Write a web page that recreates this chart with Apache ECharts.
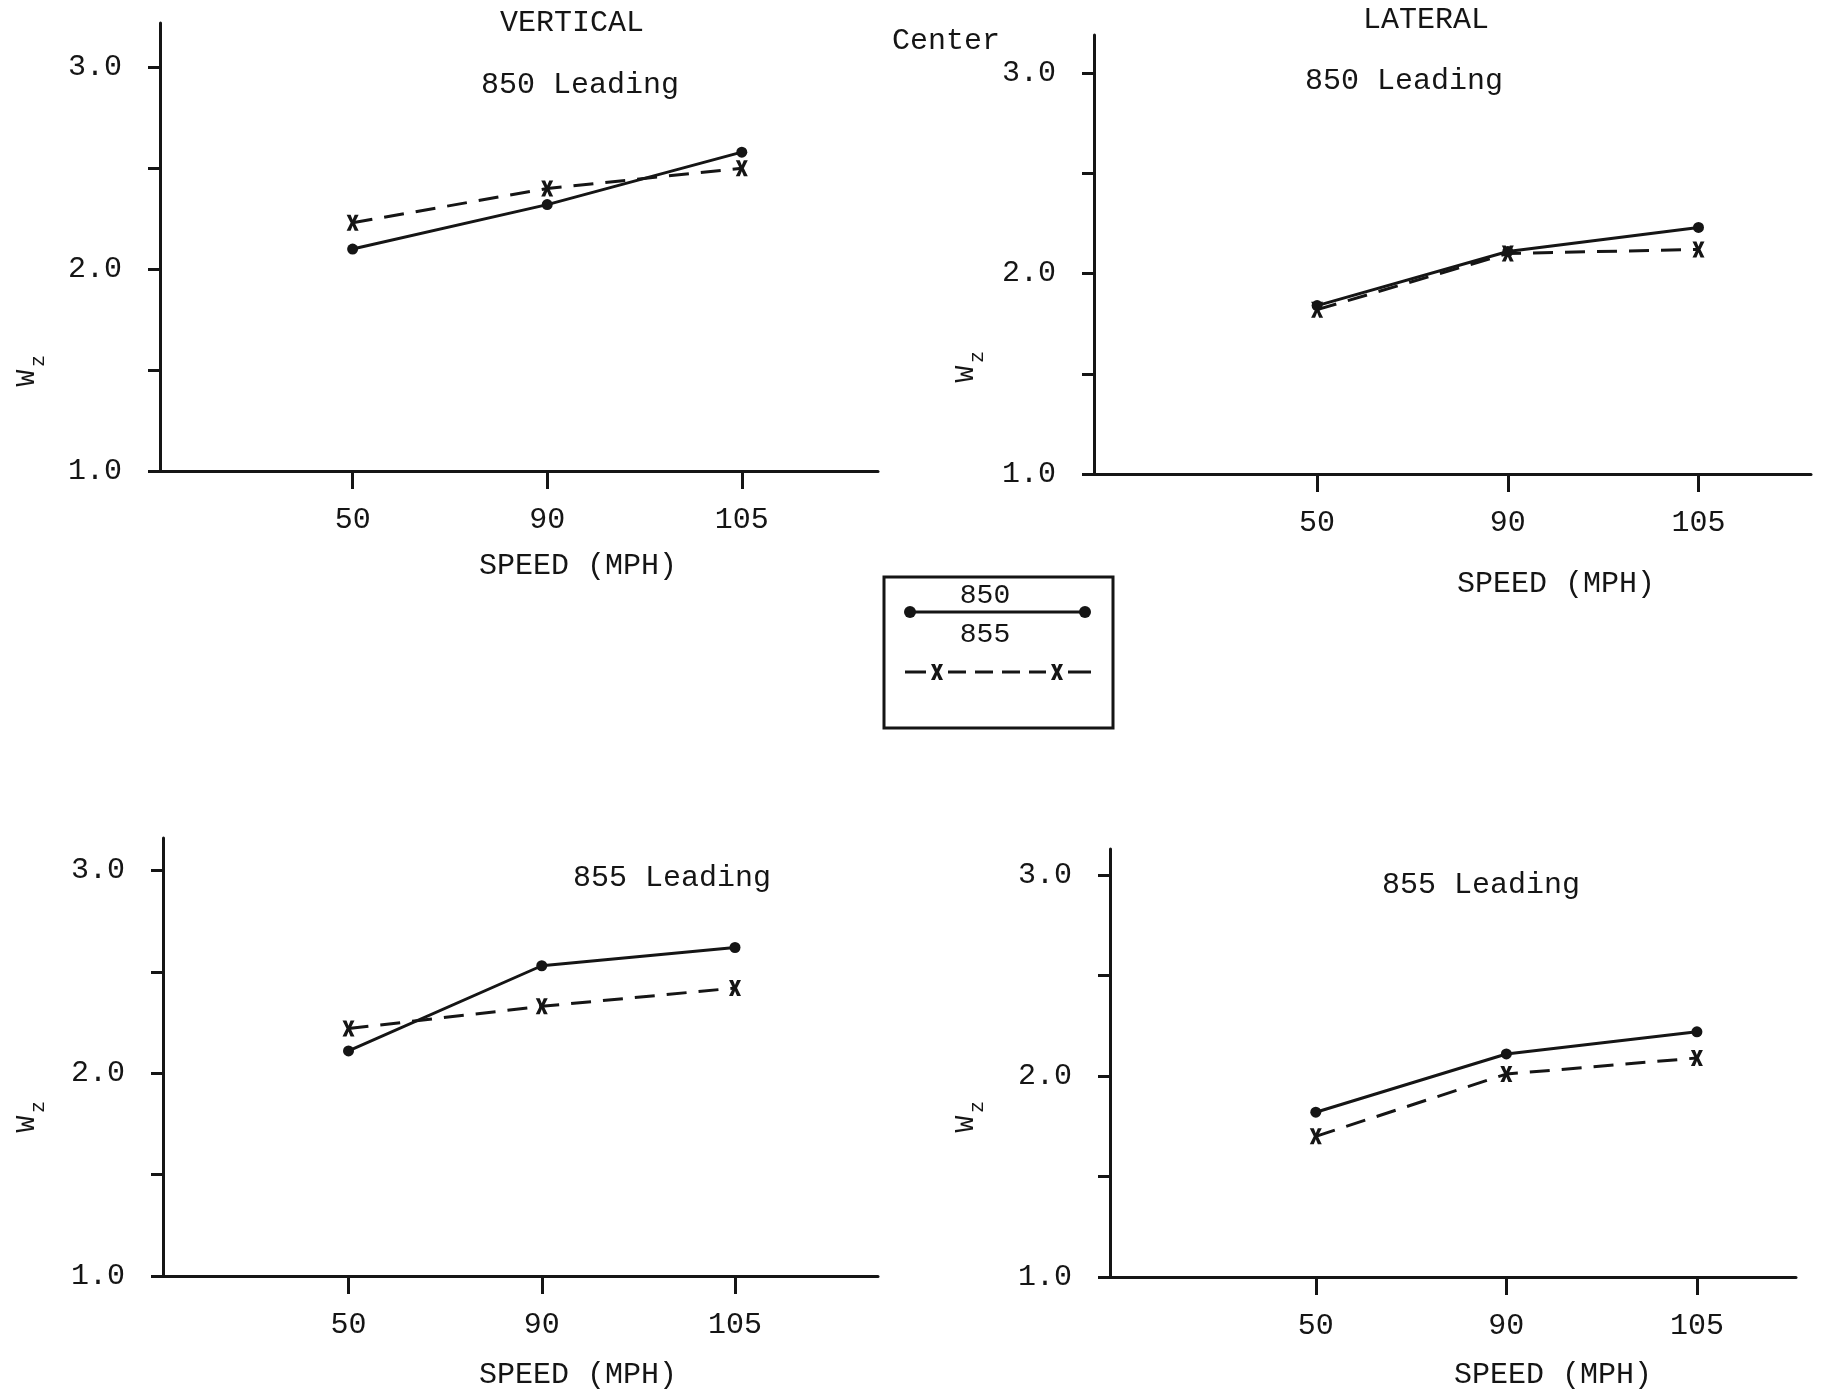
<!DOCTYPE html>
<html>
<head>
<meta charset="utf-8">
<script src="https://cdn.jsdelivr.net/npm/echarts@6/dist/echarts.min.js"></script>
<style>
  html, body { margin: 0; padding: 0; background: #ffffff; }
  #chart { width: 1823px; height: 1393px; }
</style>
</head>
<body>
<div id="chart"></div>
<script>
// Speed categories (MPH), equally spaced along each x axis
const speeds = ['50', '90', '105'];
const yTickValues = [1.0, 1.5, 2.0, 2.5, 3.0];
const yLabelValues = [1.0, 2.0, 3.0];

// W_z at the center location; "850" = solid line with dots, "855" = dashed line with x
const vertical850Leading_850 = [2.10, 2.32, 2.58];
const vertical850Leading_855 = [2.23, 2.40, 2.50];
const lateral850Leading_850 = [1.84, 2.11, 2.23];
const lateral850Leading_855 = [1.82, 2.10, 2.12];
const vertical855Leading_850 = [2.11, 2.53, 2.62];
const vertical855Leading_855 = [2.22, 2.33, 2.42];
const lateral855Leading_850 = [1.82, 2.11, 2.22];
const lateral855Leading_855 = [1.70, 2.01, 2.09];

const INK = '#151515';
const FONT = "'Liberation Mono', 'DejaVu Sans Mono', monospace";
const X_MARK = 'path://M0,0 L3.3,0 L5,4.4 L6.7,0 L10,0 L6.7,7 L10,14 L6.7,14 L5,9.6 L3.3,14 L0,14 L3.3,7 Z';

const panels = [
  { grid: { left: 160, top: 23, width: 718, height: 448 }, xMin: -0.99, xMax: 2.70, yMax: 3.22,
    s850: vertical850Leading_850, s855: vertical850Leading_855 },
  { grid: { left: 1094, top: 35, width: 717, height: 439 }, xMin: -1.17, xMax: 2.59, yMax: 3.19,
    s850: lateral850Leading_850, s855: lateral850Leading_855 },
  { grid: { left: 163, top: 838, width: 715, height: 438 }, xMin: -0.96, xMax: 2.74, yMax: 3.16,
    s850: vertical855Leading_850, s855: vertical855Leading_855 },
  { grid: { left: 1110, top: 849, width: 686, height: 428 }, xMin: -1.08, xMax: 2.52, yMax: 3.13,
    s850: lateral855Leading_850, s855: lateral855Leading_855 }
];

const toPoints = vals => speeds.map((s, i) => [i, vals[i]]);
const speedIdx = speeds.map((s, i) => i);

const grids = [], xAxes = [], yAxes = [], series = [];
panels.forEach((p, k) => {
  grids.push(Object.assign({ containLabel: false, outerBoundsMode: 'none' }, p.grid));
  xAxes.push({
    type: 'value', gridIndex: k, min: p.xMin, max: p.xMax,
    axisLine: { show: true, onZero: false, lineStyle: { color: INK, width: 3 } },
    axisTick: { show: true, customValues: speedIdx, length: 18, lineStyle: { color: INK, width: 3 } },
    axisLabel: { customValues: speedIdx, formatter: v => speeds[Math.round(v)], margin: 34,
                 fontFamily: FONT, fontSize: 30, color: INK },
    splitLine: { show: false }
  });
  yAxes.push({
    type: 'value', gridIndex: k, min: 1.0, max: p.yMax,
    axisLine: { show: true, onZero: false, lineStyle: { color: INK, width: 3 } },
    axisTick: { show: true, customValues: yTickValues, length: 12, lineStyle: { color: INK, width: 3 } },
    axisLabel: { customValues: yLabelValues, formatter: v => v.toFixed(1), margin: 38,
                 fontFamily: FONT, fontSize: 30, color: INK },
    splitLine: { show: false }
  });
  series.push({
    name: '850', type: 'line', xAxisIndex: k, yAxisIndex: k, data: toPoints(p.s850),
    symbol: 'circle', symbolSize: 11, showSymbol: true,
    lineStyle: { color: INK, width: 3, type: 'solid' },
    itemStyle: { color: INK }, z: 3, animation: false
  });
  series.push({
    name: '855', type: 'line', xAxisIndex: k, yAxisIndex: k, data: toPoints(p.s855),
    symbol: X_MARK, symbolSize: [12, 16], showSymbol: true,
    lineStyle: { color: INK, width: 3, type: [20, 12] },
    itemStyle: { color: INK }, z: 2, animation: false
  });
});

function label(text, x, y, size) {
  return { type: 'text', x: x, y: y, z: 10,
    style: { text: text, fontFamily: FONT, fontSize: size || 30, fill: INK, align: 'center', verticalAlign: 'middle' } };
}
function wzLabel(x, y) {
  return { type: 'group', x: x, y: y, rotation: Math.PI / 2, z: 10, children: [
    { type: 'text', x: 0, y: 0, style: { text: 'W', fontFamily: FONT, fontSize: 28, fill: INK, align: 'center', verticalAlign: 'middle' } },
    { type: 'text', x: 17, y: 12, style: { text: 'z', fontFamily: FONT, fontSize: 20, fill: INK, align: 'center', verticalAlign: 'middle' } }
  ] };
}
function xMarkPoly(cx, cy) {
  const rel = [[0,0],[3.3,0],[5,4.4],[6.7,0],[10,0],[6.7,7],[10,14],[6.7,14],[5,9.6],[3.3,14],[0,14],[3.3,7]];
  return { type: 'polygon', z: 12, shape: { points: rel.map(([a, b]) => [cx - 6 + a * 1.2, cy - 8 + b * 1.15]) },
    style: { fill: INK } };
}
function seg(x1, x2, y) {
  return { type: 'line', z: 11, shape: { x1: x1, y1: y, x2: x2, y2: y }, style: { stroke: INK, lineWidth: 3 } };
}

const graphics = [
  label('VERTICAL', 572, 23),
  label('Center', 946, 41),
  label('LATERAL', 1426, 20),
  label('850 Leading', 580, 85),
  label('850 Leading', 1404, 81),
  label('855 Leading', 672, 878),
  label('855 Leading', 1481, 885),
  label('SPEED (MPH)', 578, 566),
  label('SPEED (MPH)', 1556, 584),
  label('SPEED (MPH)', 578, 1375),
  label('SPEED (MPH)', 1553, 1375),
  wzLabel(27, 378),
  wzLabel(966, 374),
  wzLabel(27, 1124),
  wzLabel(966, 1124),
  // key box
  { type: 'rect', z: 10, shape: { x: 884, y: 577, width: 229, height: 151 },
    style: { fill: '#ffffff', stroke: INK, lineWidth: 3 } },
  label('850', 985, 596, 28),
  label('855', 985, 635, 28),
  seg(910, 1085, 612),
  { type: 'circle', z: 12, shape: { cx: 910, cy: 612, r: 6 }, style: { fill: INK } },
  { type: 'circle', z: 12, shape: { cx: 1085, cy: 612, r: 6 }, style: { fill: INK } },
  seg(905, 926, 672), seg(948, 966, 672), seg(975, 993, 672), seg(1002, 1020, 672),
  seg(1029, 1046, 672), seg(1068, 1091, 672),
  xMarkPoly(937, 672), xMarkPoly(1057, 672)
];

const chart = echarts.init(document.getElementById('chart'), null, { renderer: 'canvas' });
chart.setOption({
  backgroundColor: '#ffffff',
  animation: false,
  grid: grids,
  xAxis: xAxes,
  yAxis: yAxes,
  series: series,
  graphic: graphics
});
</script>
</body>
</html>
